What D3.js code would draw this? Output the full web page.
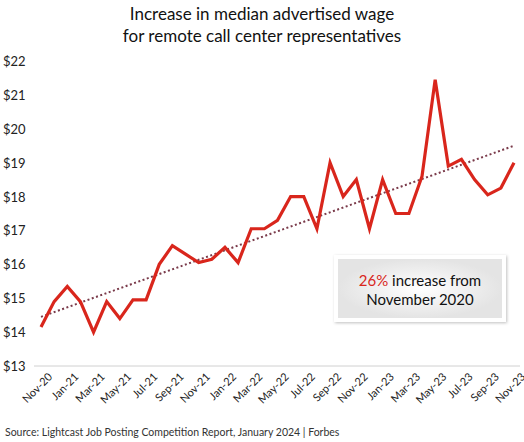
<!DOCTYPE html>
<html><head><meta charset="utf-8">
<script src="https://cdn.jsdelivr.net/npm/d3@7"></script>
<style>body{margin:0;background:#fff;font-family:Lato,sans-serif}</style>
</head><body><svg id="c" width="524" height="442"></svg>
<script>
const months=["Nov-20","Dec-20","Jan-21","Feb-21","Mar-21","Apr-21","May-21","Jun-21","Jul-21","Aug-21","Sep-21","Oct-21","Nov-21","Dec-21","Jan-22","Feb-22","Mar-22","Apr-22","May-22","Jun-22","Jul-22","Aug-22","Sep-22","Oct-22","Nov-22","Dec-22","Jan-23","Feb-23","Mar-23","Apr-23","May-23","Jun-23","Jul-23","Aug-23","Sep-23","Oct-23","Nov-23"];
const wages=[14.15,14.9,15.35,14.9,14.0,14.9,14.4,14.95,14.95,16.0,16.55,16.3,16.05,16.15,16.5,16.05,17.05,17.05,17.3,18.0,18.0,17.05,19.0,18.0,18.5,17.05,18.5,17.5,17.5,18.6,21.45,18.9,19.1,18.5,18.05,18.25,19.0];
const trendEnds=[14.45,19.5];
const yTicks=[13,14,15,16,17,18,19,20,21,22];
const svg=d3.select("#c");
const x=d3.scalePoint().domain(months).range([41,514]);
const y=d3.scaleLinear().domain([13,22]).range([366,61]);
svg.append("text").attr("x",262).attr("y",20).attr("text-anchor","middle").attr("font-size",17).attr("fill","#111").text("Increase in median advertised wage");
svg.append("text").attr("x",262).attr("y",42).attr("text-anchor","middle").attr("font-size",17).attr("fill","#111").text("for remote call center representatives");
svg.append("text").attr("x",5).attr("y",436).attr("font-size",10.5).attr("fill","#333").text("Source: Lightcast Job Posting Competition Report, January 2024 | Forbes");
svg.append("g").attr("font-size",13).attr("fill","#222").selectAll("text").data(yTicks).join("text")
 .attr("x",3).attr("y",d=>y(d)+5).text(d=>"$"+d);
svg.append("line").attr("x1",34).attr("x2",520).attr("y1",366).attr("y2",366).attr("stroke","#d0d0d0");
const xa=svg.append("g").attr("transform","translate(0,366)").call(d3.axisBottom(x).tickValues(months.filter((d,i)=>i%2==0)).tickSize(0));
xa.select(".domain").remove();
xa.selectAll("text").attr("font-family","Lato,sans-serif").attr("font-size",11).attr("fill","#222")
 .attr("text-anchor","end").attr("transform","translate(4,4) rotate(-45)").attr("dy","0.7em");
svg.append("line").attr("x1",x(months[0])).attr("x2",x(months[months.length-1])).attr("y1",y(trendEnds[0])).attr("y2",y(trendEnds[1]))
 .attr("stroke","#7a3a4a").attr("stroke-width",2).attr("stroke-dasharray","2,2.5");
svg.append("path").datum(wages).attr("fill","none").attr("stroke","#d9261c").attr("stroke-width",3.2)
 .attr("d",d3.line().x((d,i)=>x(months[i])).y(d=>y(d)));
const defs=svg.append("defs");
const g=defs.append("radialGradient").attr("id","bg");
g.append("stop").attr("offset","0%").attr("stop-color","#ffffff");
g.append("stop").attr("offset","100%").attr("stop-color","#e4e4e4");
const f=defs.append("filter").attr("id","sh").attr("x","-10%").attr("y","-10%").attr("width","130%").attr("height","130%");
f.append("feDropShadow").attr("dx",1).attr("dy",1).attr("stdDeviation",1.5).attr("flood-color","#000").attr("flood-opacity",0.25);
svg.append("rect").attr("x",334).attr("y",255).attr("width",172).attr("height",67).attr("fill","#fff").attr("filter","url(#sh)");
svg.append("rect").attr("x",338).attr("y",259).attr("width",164).attr("height",59).attr("fill","url(#bg)");
const t1=svg.append("text").attr("x",420).attr("y",286).attr("text-anchor","middle").attr("font-size",15).attr("fill","#111");
t1.append("tspan").attr("fill","#d9261c").text("26%");
t1.append("tspan").text(" increase from");
svg.append("text").attr("x",420).attr("y",305).attr("text-anchor","middle").attr("font-size",15).attr("fill","#111").text("November 2020");
</script></body></html>
